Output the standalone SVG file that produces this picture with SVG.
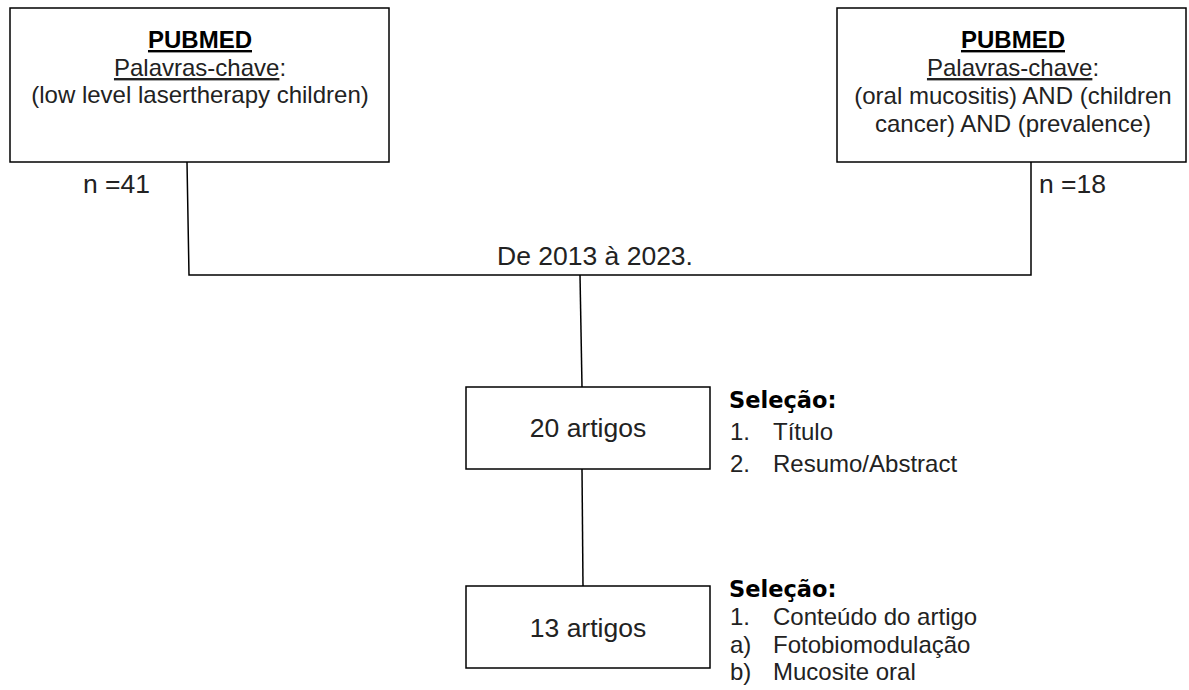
<svg xmlns="http://www.w3.org/2000/svg" width="1189" height="690" viewBox="0 0 1189 690">
<style>
.box{fill:#fff;stroke:#000;stroke-width:1.5}
.ln{fill:none;stroke:#000;stroke-width:1.5}
text{font-family:"Liberation Sans",Arial,sans-serif;fill:#222}
.s24{font-size:24px}
.s27{font-size:26.5px}
.b{font-weight:bold;fill:#000}
.h{font-family:"DejaVu Sans",Verdana,sans-serif;font-weight:bold;font-size:22.5px;fill:#000}
.u{text-decoration:underline}
.c{text-anchor:middle}
</style>
<rect width="1189" height="690" fill="#fff"/>
<g id="connectors">
<polyline class="ln" points="187,162 189,275 1031,275 1031,162"/>
<line class="ln" x1="580" y1="275" x2="582" y2="387"/>
<line class="ln" x1="582" y1="469" x2="583" y2="586"/>
</g>
<g id="pubmed-left">
<rect class="box" x="10" y="8" width="379" height="154"/>
<text class="s24 c b u" x="200" y="48">PUBMED</text>
<text class="s24 c" x="200" y="76"><tspan class="u">Palavras-chave</tspan>:</text>
<text class="s24 c" x="200" y="103">(low level lasertherapy children)</text>
</g>
<g id="pubmed-right">
<rect class="box" x="837" y="8" width="349" height="154"/>
<text class="s24 c b u" x="1013" y="48">PUBMED</text>
<text class="s24 c" x="1013" y="76"><tspan class="u">Palavras-chave</tspan>:</text>
<text class="s24 c" x="1013" y="104">(oral mucositis) AND (children</text>
<text class="s24 c" x="1013" y="132">cancer) AND (prevalence)</text>
</g>
<g id="labels">
<text class="s27" x="83" y="193">n =41</text>
<text class="s27" x="1039" y="193">n =18</text>
<text class="s27" x="497" y="265">De 2013 à 2023.</text>
</g>
<g id="artigos20">
<rect class="box" x="466" y="387" width="244" height="82"/>
<text class="s27 c" x="588" y="437">20 artigos</text>
</g>
<g id="selecao1">
<text class="h" x="729" y="408">Seleção:</text>
<text class="s24" x="730" y="440">1.</text>
<text class="s24" x="773" y="440">Título</text>
<text class="s24" x="730" y="472">2.</text>
<text class="s24" x="773" y="472">Resumo/Abstract</text>
</g>
<g id="artigos13">
<rect class="box" x="466" y="586" width="244" height="82"/>
<text class="s27 c" x="588" y="637">13 artigos</text>
</g>
<g id="selecao2">
<text class="h" x="729" y="597">Seleção:</text>
<text class="s24" x="730" y="625">1.</text>
<text class="s24" x="773" y="625">Conteúdo do artigo</text>
<text class="s24" x="730" y="653">a)</text>
<text class="s24" x="773" y="653">Fotobiomodulação</text>
<text class="s24" x="730" y="680">b)</text>
<text class="s24" x="773" y="680">Mucosite oral</text>
</g>
</svg>
